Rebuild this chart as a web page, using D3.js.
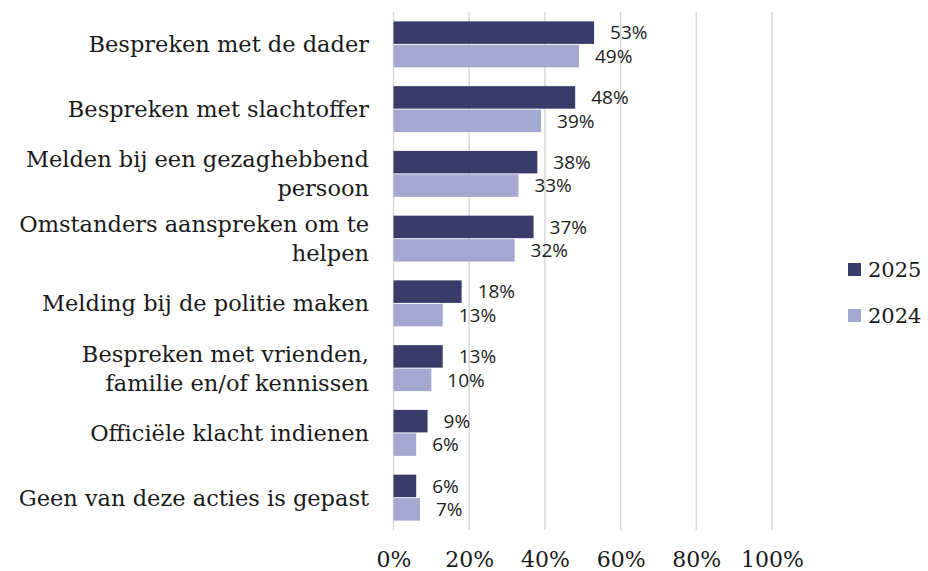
<!DOCTYPE html>
<html><head><meta charset="utf-8">
<script src="https://cdn.jsdelivr.net/npm/d3@7"></script>
<style>body{margin:0;background:#fff}</style>
</head><body>
<svg id="chart" width="928" height="571"></svg>
<script>
const categories = [
  "Bespreken met de dader",
  "Bespreken met slachtoffer",
  "Melden bij een gezaghebbend\npersoon",
  "Omstanders aanspreken om te\nhelpen",
  "Melding bij de politie maken",
  "Bespreken met vrienden,\nfamilie en/of kennissen",
  "Officiële klacht indienen",
  "Geen van deze acties is gepast"
];
const seriesNames = ["2025", "2024"];
const values2025 = [53, 48, 38, 37, 18, 13, 9, 6];
const values2024 = [49, 39, 33, 32, 13, 10, 6, 7];
const tickValues = [0, 20, 40, 60, 80, 100];
const colors = ["#393c69", "#a3a8d1"];

const seriesValues = [values2025, values2024];
const svg = d3.select("#chart");

const x = d3.scaleLinear().domain([0, 100]).range([393.5, 772]);
const y = d3.scaleBand().domain(categories).range([12, 530]).paddingInner(0.29).paddingOuter(0.145);
const ySub = d3.scaleBand().domain(seriesNames).range([0, y.bandwidth()]).paddingInner(0.04);

// gridlines
svg.append("g").selectAll("line").data(tickValues).join("line")
  .attr("x1", d => x(d)).attr("x2", d => x(d))
  .attr("y1", 12).attr("y2", 530)
  .attr("stroke", "#d9d9d9").attr("stroke-width", 1.5);

// bars
const groups = svg.append("g").selectAll("g").data(categories).join("g")
  .attr("transform", d => `translate(0,${y(d)})`);

seriesNames.forEach((s, si) => {
  groups.append("rect")
    .attr("x", x(0))
    .attr("y", ySub(s))
    .attr("width", (d, i) => x(seriesValues[si][i]) - x(0))
    .attr("height", ySub.bandwidth())
    .attr("fill", colors[si]);
  groups.append("text")
    .attr("x", (d, i) => x(seriesValues[si][i]) + 16)
    .attr("y", ySub(s) + ySub.bandwidth() / 2)
    .attr("dy", "0.36em")
    .attr("font-family", "'Open Sans', sans-serif")
    .attr("font-size", 19)
    .attr("fill", "#1e1e1e")
    .text((d, i) => seriesValues[si][i] + "%");
});

// category labels
const catG = svg.append("g");
categories.forEach(c => {
  const lines = c.split("\n");
  const cy = y(c) + y.bandwidth() / 2;
  const lh = 29;
  const t = catG.append("text")
    .attr("text-anchor", "end")
    .attr("font-family", "'DejaVu Serif', serif")
    .attr("font-size", 22.5)
    .attr("fill", "#1a1a1a");
  lines.forEach((l, i) => {
    t.append("tspan").attr("x", 369)
      .attr("y", cy + (i - (lines.length - 1) / 2) * lh)
      .attr("dy", "0.35em").text(l);
  });
});

// x axis tick labels
const axis = d3.axisBottom(x).tickValues(tickValues).tickFormat(d => d + "%").tickSize(0).tickPadding(0);
const ax = svg.append("g").attr("transform", "translate(0,551)").call(axis);
ax.select(".domain").remove();
ax.selectAll("text").attr("font-family", "'DejaVu Serif', serif").attr("font-size", 22).attr("fill", "#1a1a1a");

// legend
const leg = svg.append("g").selectAll("g").data(seriesNames).join("g")
  .attr("transform", (d, i) => `translate(848,${263 + i * 46})`);
leg.append("rect").attr("width", 13).attr("height", 13).attr("fill", (d, i) => colors[i]);
leg.append("text").attr("x", 20).attr("y", 6.5).attr("dy", "0.36em")
  .attr("font-family", "'DejaVu Serif', serif").attr("font-size", 21).attr("fill", "#1a1a1a")
  .text(d => d);
</script>
</body></html>
